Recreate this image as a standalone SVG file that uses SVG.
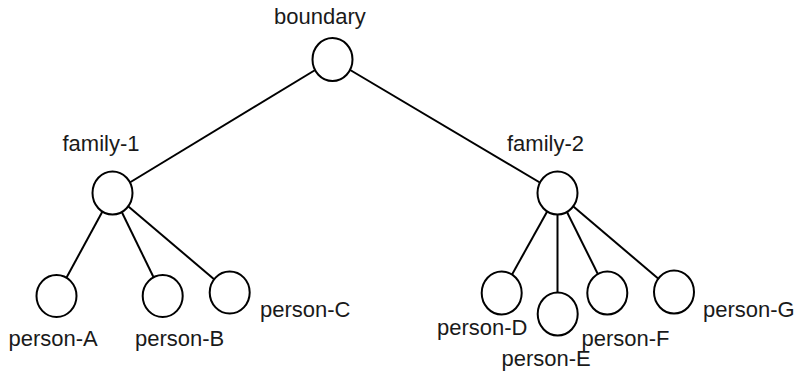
<svg xmlns="http://www.w3.org/2000/svg" width="800" height="372" viewBox="0 0 800 372">
  <style>
    .edge { stroke: #000; stroke-width: 2; fill: none; }
    .node ellipse { fill: #fff; stroke: #000; stroke-width: 2; }
    .label { font-family: "Liberation Sans", Arial, sans-serif; font-size: 22px; fill: #1a1a1a; }
  </style>
  <rect width="800" height="372" fill="#fff"/>

  <!-- connectors: drawn center to center, hidden under the white node fills -->
  <g id="edges" class="edge">
    <line x1="332.5" y1="59.5" x2="112.5" y2="193"/>
    <line x1="332.5" y1="59.5" x2="557.5" y2="193"/>
    <line x1="112.5" y1="193" x2="56.5" y2="296"/>
    <line x1="112.5" y1="193" x2="162.7" y2="296"/>
    <line x1="112.5" y1="193" x2="229.7" y2="292.5"/>
    <line x1="557.5" y1="193" x2="501.7" y2="293"/>
    <line x1="557.5" y1="193" x2="557.5" y2="314"/>
    <line x1="557.5" y1="193" x2="607.3" y2="293"/>
    <line x1="557.5" y1="193" x2="674" y2="292"/>
  </g>

  <g id="boundary" class="node">
    <ellipse cx="332.5" cy="59.5" rx="20" ry="21.5"/>
    <text class="label" x="274" y="24">boundary</text>
  </g>
  <g id="family-1" class="node">
    <ellipse cx="112.5" cy="193" rx="20" ry="21.5"/>
    <text class="label" x="62.5" y="151">family-1</text>
  </g>
  <g id="family-2" class="node">
    <ellipse cx="557.5" cy="193" rx="20" ry="21.5"/>
    <text class="label" x="507" y="151">family-2</text>
  </g>
  <g id="person-A" class="node">
    <ellipse cx="56.5" cy="296" rx="20" ry="21"/>
    <text class="label" x="8.5" y="346">person-A</text>
  </g>
  <g id="person-B" class="node">
    <ellipse cx="162.7" cy="296" rx="20" ry="21"/>
    <text class="label" x="135" y="346">person-B</text>
  </g>
  <g id="person-C" class="node">
    <ellipse cx="229.7" cy="292.5" rx="20" ry="21"/>
    <text class="label" x="260" y="317">person-C</text>
  </g>
  <g id="person-D" class="node">
    <ellipse cx="501.7" cy="293" rx="20" ry="21.5"/>
    <text class="label" x="437" y="335">person-D</text>
  </g>
  <g id="person-E" class="node">
    <ellipse cx="557.7" cy="314" rx="20" ry="21.5"/>
    <text class="label" x="501.5" y="366">person-E</text>
  </g>
  <g id="person-F" class="node">
    <ellipse cx="607.3" cy="293" rx="20" ry="21.5"/>
    <text class="label" x="581.5" y="345.5">person-F</text>
  </g>
  <g id="person-G" class="node">
    <ellipse cx="674" cy="292" rx="20" ry="21.5"/>
    <text class="label" x="703" y="317">person-G</text>
  </g>
</svg>
